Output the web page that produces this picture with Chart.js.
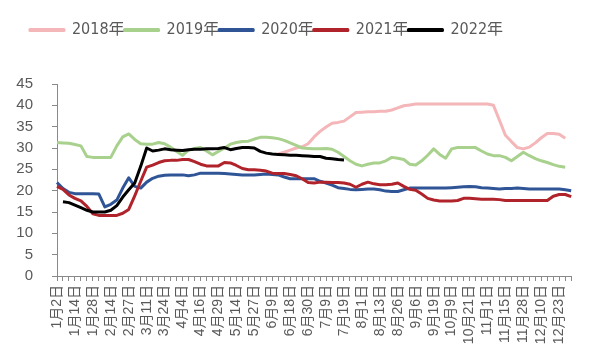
<!DOCTYPE html>
<html>
<head>
<meta charset="utf-8">
<script src="https://cdn.jsdelivr.net/npm/chart.js@4/dist/chart.umd.min.js"></script>
<style>
    html, body { margin: 0; padding: 0; background: #fff; }
</style>
</head>
<body>
<canvas id="price-chart" width="592" height="358"></canvas>
<script>
'use strict';

// labelled dates, one every third point on the axis
const tick_labels = [
    '1月2日', '1月14日', '1月28日', '2月14日', '2月27日', '3月11日', '3月24日',
    '4月4日', '4月16日', '4月29日', '5月14日', '5月27日', '6月9日', '6月18日',
    '6月30日', '7月9日', '7月19日', '8月1日', '8月13日', '8月26日', '9月6日',
    '9月19日', '10月9日', '10月21日', '11月1日', '11月15日', '11月28日',
    '12月10日', '12月23日'
];
const point_count = 87;
const categories = Array.from({length: point_count}, (_, i) => i % 3 === 0 ? (tick_labels[i / 3] || '') : '');

const series_names = ['2018年', '2019年', '2020年', '2021年', '2022年'];
const series_colours = ['#F4B6B8', '#A9D18E', '#2F5597', '#B0232A', '#000000'];

const values_2018 = [
    null, null, null, null, null, null, null, null, null, null,
    null, null, null, null, null, null, null, null, null, null,
    null, null, null, null, null, null, null, null, null, null,
    null, null, null, null, null, null, null, 28.6, 29.0, 29.5,
    30.0, 30.3, 31.0, 32.6, 33.9, 34.9, 35.8, 36.0, 36.3, 37.3,
    38.3, 38.4, 38.5, 38.5, 38.6, 38.6, 38.9, 39.4, 39.9, 40.1,
    40.3, 40.3, 40.3, 40.3, 40.3, 40.3, 40.3, 40.3, 40.3, 40.3,
    40.3, 40.3, 40.3, 40.0, 36.5, 33.0, 31.5, 30.1, 29.8, 30.2,
    31.2, 32.4, 33.4, 33.4, 33.2, 32.3, null
];
const values_2019 = [
    31.3, 31.2, 31.1, 30.8, 30.5, 28.0, 27.8, 27.8, 27.8, 27.8,
    30.5, 32.6, 33.3, 32.0, 31.0, 30.9, 30.9, 31.3, 31.0, 30.2,
    29.2, 28.3, 29.5, 29.9, 30.1, 29.3, 28.4, 29.2, 30.0, 30.9,
    31.3, 31.5, 31.6, 32.1, 32.5, 32.5, 32.4, 32.2, 31.8, 31.2,
    30.6, 30.0, 29.9, 29.8, 29.8, 29.9, 29.7, 29.0, 28.0, 27.0,
    26.2, 25.8, 26.2, 26.5, 26.5, 27.0, 27.8, 27.6, 27.3, 26.2,
    26.0, 27.0, 28.3, 29.8, 28.5, 27.6, 29.8, 30.1, 30.1, 30.1,
    30.1, 29.3, 28.6, 28.2, 28.2, 27.8, 27.0, 28.0, 29.0, 28.2,
    27.5, 27.0, 26.6, 26.1, 25.7, 25.5, null
];
const values_2020 = [
    21.9, 20.5, 19.6, 19.3, 19.3, 19.3, 19.3, 19.2, 16.2, 16.8,
    17.8, 20.6, 23.0, 21.0, 20.6, 22.0, 22.9, 23.4, 23.6, 23.7,
    23.7, 23.7, 23.5, 23.7, 24.1, 24.1, 24.1, 24.1, 24.0, 23.9,
    23.8, 23.7, 23.7, 23.7, 23.8, 23.9, 23.8, 23.7, 23.2, 22.8,
    22.8, 22.8, 22.8, 22.8, 22.2, 21.8, 21.3, 20.7, 20.5, 20.3,
    20.2, 20.3, 20.4, 20.4, 20.2, 19.9, 19.8, 19.8, 20.2, 20.6,
    20.6, 20.6, 20.6, 20.6, 20.6, 20.6, 20.7, 20.8, 20.9, 21.0,
    20.9, 20.7, 20.6, 20.5, 20.4, 20.5, 20.5, 20.6, 20.5, 20.4,
    20.4, 20.4, 20.4, 20.4, 20.4, 20.2, 20.0
];
const values_2021 = [
    21.0, 20.3, 19.0, 18.2, 17.6, 16.3, 14.6, 14.2, 14.2, 14.2,
    14.2, 14.7, 15.6, 18.8, 22.2, 25.5, 26.0, 26.6, 27.0, 27.1,
    27.1, 27.3, 27.3, 26.8, 26.2, 25.8, 25.8, 25.8, 26.6, 26.5,
    25.9, 25.2, 24.9, 24.9, 24.8, 24.6, 24.1, 24.0, 24.0, 23.8,
    23.5, 22.8, 21.9, 21.8, 22.0, 22.0, 21.9, 21.9, 21.8, 21.5,
    20.8, 21.5, 22.0, 21.6, 21.4, 21.4, 21.5, 21.8, 21.0, 20.3,
    20.1, 19.2, 18.2, 17.8, 17.6, 17.6, 17.6, 17.7, 18.2, 18.2,
    18.1, 18.0, 18.0, 18.0, 17.9, 17.7, 17.7, 17.7, 17.7, 17.7,
    17.7, 17.7, 17.7, 18.7, 19.1, 19.1, 18.6
];
const values_2022 = [
    null, 17.4, 17.2, 16.6, 16.0, 15.4, 15.0, 15.0, 15.0, 15.4,
    16.5, 18.5, 20.2, 21.8, 25.7, 30.0, 29.3, 29.5, 29.8, 29.6,
    29.5, 29.4, 29.6, 29.7, 29.7, 29.8, 29.8, 29.9, 30.1, 29.6,
    29.9, 30.1, 30.1, 30.0, 29.2, 28.8, 28.6, 28.5, 28.4, 28.3,
    28.3, 28.2, 28.1, 28.0, 28.0, 27.6, 27.5, 27.3, 27.2
];

const all_values = [values_2018, values_2019, values_2020, values_2021, values_2022];

const AXIS_GREY = '#898989';
const TEXT_GREY = '#595959';

// Excel puts the legend a little left of centre
const legend_nudge = {
    id: 'legend_nudge',
    afterLayout(chart) {
        chart.legend.left -= 20;
        chart.legend.right -= 20;
    }
};

const datasets = series_names.map((name, i) => ({
    label: name,
    data: all_values[i],
    borderColor: series_colours[i],
    backgroundColor: series_colours[i],
    borderWidth: 3,
    pointRadius: 0,
    tension: 0,
    borderJoinStyle: 'round',
    order: series_names.length - i
}));

const chart = new Chart(document.getElementById('price-chart'), {
    type: 'line',
    data: {
        labels: categories,
        datasets: datasets
    },
    plugins: [legend_nudge],
    options: {
        responsive: false,
        animation: false,
        layout: {
            padding: {left: 0, right: 19, top: 22, bottom: 0}
        },
        plugins: {
            legend: {
                position: 'top',
                weight: 3000,
                labels: {
                    boxWidth: 34,
                    boxHeight: 1,
                    padding: 0,
                    color: TEXT_GREY,
                    font: {family: "'Liberation Sans Narrow', 'DejaVu Sans Condensed', 'Noto Sans CJK SC'", size: 16},
                    sort: (a, b) => a.datasetIndex - b.datasetIndex
                }
            },
            // empty title used only as a gap under the legend
            title: {
                display: true,
                text: '',
                font: {size: 10, lineHeight: 1},
                padding: {top: 0, bottom: 26}
            },
            tooltip: {enabled: false}
        },
        scales: {
            x: {
                type: 'category',
                offset: false,
                grid: {
                    drawOnChartArea: false,
                    drawTicks: true,
                    tickLength: 5,
                    color: AXIS_GREY
                },
                border: {color: AXIS_GREY, width: 1},
                ticks: {
                    autoSkip: false,
                    maxRotation: 90,
                    minRotation: 90,
                    padding: 4,
                    color: TEXT_GREY,
                    font: {family: "'Liberation Sans', 'Noto Sans CJK SC'", size: 14}
                },
                afterFit: scale => { scale.height = 82; }
            },
            y: {
                min: 0,
                max: 45,
                grid: {
                    drawOnChartArea: false,
                    drawTicks: true,
                    tickLength: 5,
                    color: AXIS_GREY
                },
                border: {color: AXIS_GREY, width: 1},
                ticks: {
                    stepSize: 5,
                    padding: 19,
                    color: TEXT_GREY,
                    font: {family: "'Liberation Sans', Arial", size: 15}
                },
                afterFit: scale => { scale.width = 57; }
            }
        }
    }
});
</script>
</body>
</html>
